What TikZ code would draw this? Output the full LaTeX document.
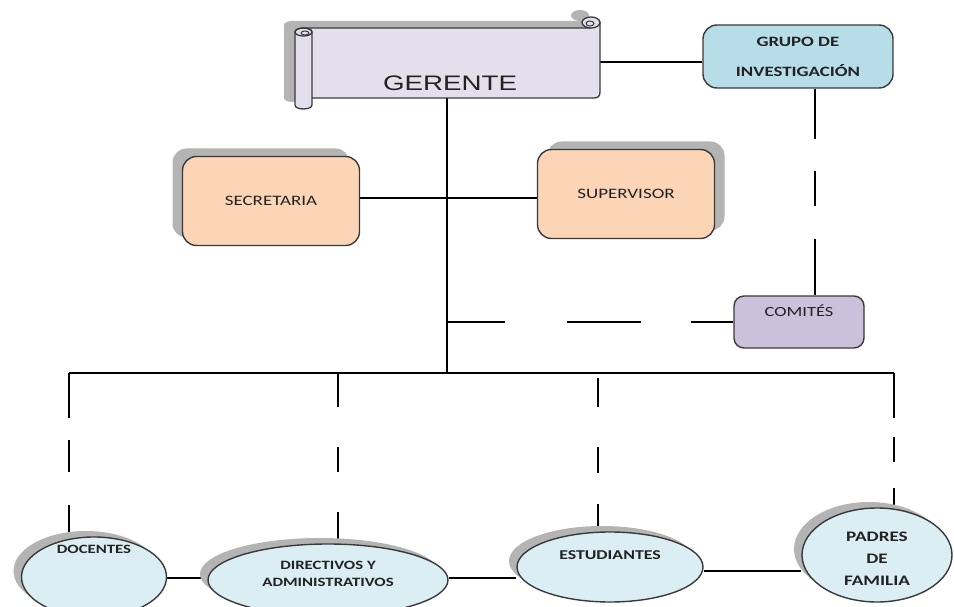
\documentclass[tikz,border=0pt]{standalone}
\usepackage{fontspec}
\setmainfont{Carlito}
\newfontfamily\bodyfont[FakeStretch=1.32]{Carlito}
\newfontfamily\titlefont[FakeStretch=1.32]{Liberation Sans}
\usetikzlibrary{shapes.geometric,shadows,backgrounds}

\definecolor{scrollfill}{HTML}{E4DFEC}
\definecolor{grupofill}{HTML}{B7DEE8}
\definecolor{peach}{HTML}{FBD5B5}
\definecolor{comfill}{HTML}{CCC0DA}
\definecolor{ovalfill}{HTML}{DBEEF3}
\definecolor{shadowgray}{HTML}{B4B4B4}
\definecolor{edgegray}{HTML}{3A3A3A}
\definecolor{inkgray}{HTML}{222222}

\newcommand\fsz[2]{\fontsize{#1}{#2}\selectfont}

\begin{document}
\begin{tikzpicture}[x=1pt,y=-1pt,
  conn/.style={draw=black, line width=1.3pt},
  rbox/.style={rectangle, rounded corners=14pt, draw=edgegray, line width=1.4pt,
    text=inkgray, inner sep=0pt},
  peachbox/.style={rbox, fill=peach, minimum width=177pt, minimum height=89pt,
    font=\bodyfont\fsz{14.4}{17}},
  oval/.style={ellipse, draw=edgegray, line width=1.4pt, fill=ovalfill, inner sep=0pt,
    general shadow={shadow xshift=-8pt, shadow yshift=6pt, fill=shadowgray}},
  ovaltext/.style={text=inkgray, align=center, font=\bodyfont\bfseries#1},
  scrollline/.style={draw=edgegray, line width=1.3pt, line join=round}
]
\useasboundingbox (0,0) rectangle (954,607);
\clip (0,0) rectangle (954,607);

% ---------- scroll for GERENTE ----------
\begin{scope}[shift={(-11,-7)}]
  \fill[shadowgray] (303,28) -- (591,28) -- (591,22) -- (600,22) -- (600,92)
    .. controls (600,96) and (598,98) .. (594,98) -- (303,98) -- cycle;
  \fill[shadowgray] (295,32) -- (295,105) .. controls (295,110.3) and (312,110.3) .. (312,105)
    -- (312,32) .. controls (312,26.7) and (295,26.7) .. (295,32) -- cycle;
  \fill[shadowgray] (591,22.5) ellipse [x radius=9, y radius=5.5];
\end{scope}
\path[fill=scrollfill, scrollline] (303,28) -- (591,28) -- (591,22) -- (600,22) -- (600,92)
  .. controls (600,96) and (598,98) .. (594,98) -- (303,98) -- cycle;
\path[fill=scrollfill, scrollline] (295,32) -- (295,105) .. controls (295,110.3) and (312,110.3) .. (312,105)
  -- (312,32) .. controls (312,26.7) and (295,26.7) .. (295,32) -- cycle;
\draw[scrollline] (303.5,32) ellipse [x radius=8.5, y radius=4];
\draw[scrollline, line width=1pt] (305,33) ellipse [x radius=4, y radius=2];
\path[fill=scrollfill, scrollline] (591,22.5) ellipse [x radius=9, y radius=5.5];
\draw[scrollline, line width=1pt] (590,23.5) ellipse [x radius=4, y radius=2.5];

\node[rectangle, minimum width=288pt, minimum height=70pt, inner sep=0pt,
  label={[font=\titlefont\fsz{21}{24}, text=inkgray, xshift=-6pt, yshift=-20pt]center:GERENTE}]
  (ger) at (456,63) {};

% ---------- boxes ----------
\node[rbox, fill=grupofill, minimum width=190pt, minimum height=63pt, align=center,
  font=\bodyfont\bfseries\fsz{14.3}{30}] (grp) at (798,56.5) {GRUPO DE\\INVESTIGACIÓN};

\node[peachbox, general shadow={shadow xshift=-10pt, shadow yshift=8pt, fill=shadowgray}]
  (sec) at (271,201) {SECRETARIA};
\node[peachbox, general shadow={shadow xshift=10pt, shadow yshift=8pt, fill=shadowgray}]
  (sup) at (626,194) {SUPERVISOR};

\node[rbox, rounded corners=10pt, fill=comfill, minimum width=130pt, minimum height=52pt,
  label={[font=\bodyfont\fsz{14}{17}, text=inkgray, yshift=11pt]center:COMITÉS}]
  (com) at (799,322) {};

% ---------- ovals ----------
\node[oval, minimum width=145pt, minimum height=80pt,
  label={[ovaltext=\fsz{12.7}{17}, yshift=28pt]center:DOCENTES}] (doc) at (94,577) {};
\node[oval, minimum width=240pt, minimum height=72pt,
  label={[ovaltext=\fsz{12.7}{17}, yshift=6.5pt]center:DIRECTIVOS Y\\ADMINISTRATIVOS}] (dir) at (328,580) {};
\node[oval, minimum width=186pt, minimum height=70pt,
  label={[ovaltext=\fsz{13.5}{17}, yshift=12pt]center:ESTUDIANTES}] (est) at (610,567) {};
\node[oval, minimum width=150pt, minimum height=94pt,
  label={[ovaltext=\fsz{14.5}{22}, yshift=-4pt]center:PADRES\\DE\\FAMILIA}] (pad) at (877,555) {};

% ---------- junction points ----------
\coordinate (trunk) at (447,373);
\coordinate (busL) at (69,373);
\coordinate (busR) at (894,373);
\coordinate (d2) at (338,373);
\coordinate (d3) at (598,373);
\coordinate (mid) at (447,198);
\coordinate (gc) at (815,0);
\coordinate (lowline) at (0,571);
\coordinate (topline) at (0,62);
\coordinate (lowleft) at (0,578);

% ---------- connectors ----------
\begin{pgfonlayer}{background}
  \draw[conn] (ger.east |- topline) -- (grp.west |- topline);
  \draw[conn] (ger.south -| trunk) -- (trunk);
  \draw[conn] (sec.east |- mid) -- (sup.west |- mid);
  \draw[conn, dash pattern=on 50pt off 32pt on 35pt off 33pt on 80pt off 10pt]
    (grp.south -| gc) -- (com.north -| gc);
  \draw[conn, dash pattern=on 58pt off 62pt on 74pt off 50pt on 60pt off 10pt]
    (com.west -| trunk) -- (com.west);
  \draw[conn] (busL) -- (busR);
  \draw[conn, dash pattern=on 45pt off 22pt on 32pt off 33pt on 40pt off 10pt]
    (busL) -- (busL |- doc.north);
  \draw[conn, dash pattern=on 34pt off 40pt on 25pt off 40pt on 40pt off 10pt]
    (d2) -- (d2 |- dir.north);
  \draw[conn, dash pattern=on 0pt off 5pt on 29pt off 40pt on 26pt off 31pt on 40pt off 10pt]
    (d3) -- (d3 |- est.north);
  \draw[conn, dash pattern=on 45pt off 19pt on 25pt off 26pt on 40pt off 10pt]
    (busR) -- (busR |- pad.north);
  \draw[conn] (doc.east |- lowleft) -- (dir.west |- lowleft);
  \draw[conn] (dir.east |- lowleft) -- (est.west |- lowleft);
  \draw[conn] (est.east |- lowline) -- (pad.west |- lowline);
\end{pgfonlayer}
\end{tikzpicture}
\end{document}
